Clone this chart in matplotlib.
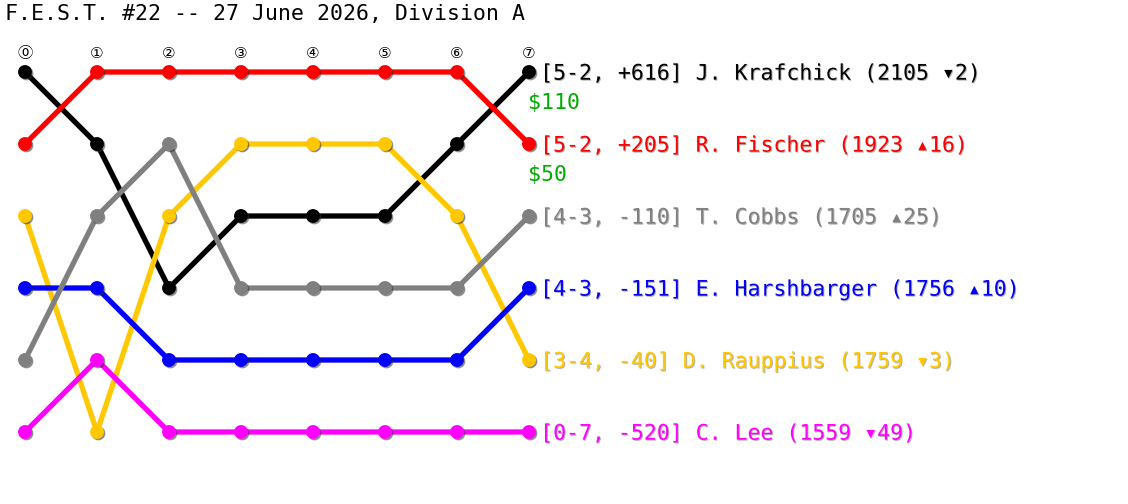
import matplotlib
matplotlib.use("Agg")
import matplotlib.pyplot as plt
import matplotlib.patheffects as pe

title = "F.E.S.T. #22 -- 27 June 2026, Division A"
rounds = [0, 1, 2, 3, 4, 5, 6, 7]
round_labels = ["⓪", "①", "②", "③", "④", "⑤", "⑥", "⑦"]

players = ["J. Krafchick", "R. Fischer", "T. Cobbs", "E. Harshbarger", "D. Rauppius", "C. Lee"]
records = ["5-2", "5-2", "4-3", "4-3", "3-4", "0-7"]
spreads = ["+616", "+205", "-110", "-151", "-40", "-520"]
ratings = [2105, 1923, 1705, 1756, 1759, 1559]
rating_change = ["▾2", "▴16", "▴25", "▴10", "▾3", "▾49"]
prizes = ["$110", "$50", None, None, None, None]
colors = ["#000000", "#ff0000", "#808080", "#0000ff", "#ffc800", "#ff00ff"]
zorders = [1, 2, 5, 4, 3, 6]

rank_krafchick = [1, 2, 4, 3, 3, 3, 2, 1]
rank_fischer = [2, 1, 1, 1, 1, 1, 1, 2]
rank_cobbs = [5, 3, 2, 4, 4, 4, 4, 3]
rank_harshbarger = [4, 4, 5, 5, 5, 5, 5, 4]
rank_rauppius = [3, 6, 3, 2, 2, 2, 3, 5]
rank_lee = [6, 5, 6, 6, 6, 6, 6, 6]
ranks = [rank_krafchick, rank_fischer, rank_cobbs, rank_harshbarger, rank_rauppius, rank_lee]

prize_color = "#00aa00"
mono = ["DejaVu Sans Mono", "DejaVu Sans"]

W, H = 1128, 504
fig = plt.figure(figsize=(W / 100, H / 100), dpi=100)
ax = fig.add_axes([0, 0, 1, 1])
ax.set_xlim(-25 / 72, (W - 25) / 72)
ax.set_ylim(H / 72, 0)
ax.axis("off")

marker_fx = [pe.SimplePatchShadow(offset=(1.0, -1.0), shadow_rgbFace="#303030", alpha=0.55), pe.Normal()]
text_fx = [pe.SimplePatchShadow(offset=(0.7, -0.7), shadow_rgbFace="#000000", alpha=0.3), pe.Normal()]

for i, name in enumerate(players):
    c = colors[i]
    z = zorders[i]
    ax.plot(rounds, ranks[i], color=c, lw=3.8, solid_capstyle="round", zorder=z)
    ax.plot(rounds, ranks[i], ls="none", marker="o", ms=10, mfc=c, mec=c, mew=0,
            zorder=z + 0.5, path_effects=marker_fx)
    label = f"[{records[i]}, {spreads[i]}] {name} ({ratings[i]} {rating_change[i]})"
    ax.annotate(label, (rounds[-1], ranks[i][-1]), xytext=(8, -1.2), textcoords="offset points",
                ha="left", va="center", fontsize=15.5, color=c, family=mono,
                path_effects=text_fx, zorder=10)
    if prizes[i]:
        ax.annotate(prizes[i], (rounds[-1], ranks[i][-1]), xytext=(-1, -22), textcoords="offset points",
                    ha="left", va="center", fontsize=15.5, color=prize_color, family=mono, zorder=10)

for r, lab in zip(rounds, round_labels):
    ax.annotate(lab, (r, 0), xytext=(0, -38.5), textcoords="offset points", ha="center", va="center",
                fontsize=11, color="black", family=["DejaVu Sans", "Noto Sans CJK SC"])

fig.text(5 / W, 1 - 14 / H, title, ha="left", va="center", fontsize=15.5, family=mono, color="black")

fig.savefig("out.png", dpi=100)
